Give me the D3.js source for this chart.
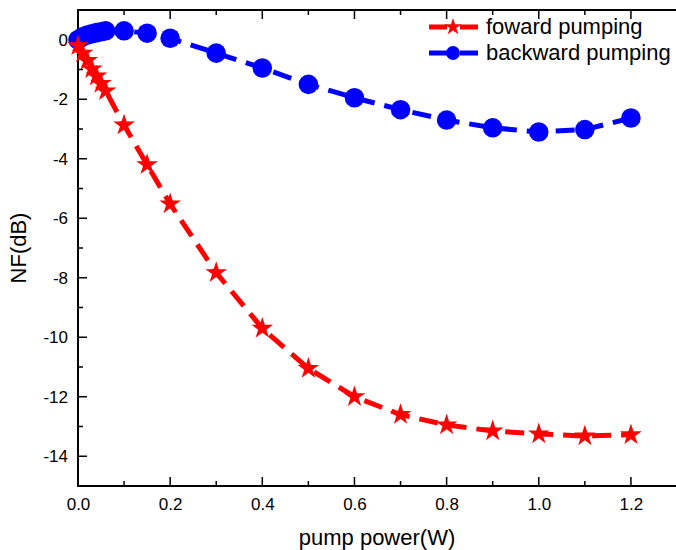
<!DOCTYPE html>
<html>
<head>
<meta charset="utf-8">
<script src="https://cdn.jsdelivr.net/npm/d3@7"></script>
<style>
  body { margin: 0; background: #fff; }
  text { font-family: "Liberation Sans", Arial, sans-serif; }
</style>
</head>
<body>
<svg id="chart" width="676" height="550"></svg>
<script>
const power = [0, 0.01, 0.02, 0.03, 0.04, 0.05, 0.06, 0.1, 0.15, 0.2, 0.3, 0.4, 0.5, 0.6, 0.7, 0.8, 0.9, 1.0, 1.1, 1.2];
const forward = [-0.2, -0.45, -0.7, -0.98, -1.22, -1.47, -1.72, -2.87, -4.2, -5.52, -7.83, -9.7, -11.05, -12.0, -12.6, -12.95, -13.15, -13.25, -13.32, -13.28];
const backward = [0.0, 0.1, 0.16, 0.2, 0.24, 0.27, 0.3, 0.3, 0.22, 0.05, -0.45, -0.95, -1.5, -1.95, -2.35, -2.7, -2.96, -3.1, -3.02, -2.63];
const xTicks = [0, 0.2, 0.4, 0.6, 0.8, 1.0, 1.2];
const yTicks = [0, -2, -4, -6, -8, -10, -12, -14];
const seriesNames = ['foward pumping', 'backward pumping'];

const svg = d3.select('#chart');
const mLeft = 78, mRight = 677, mTop = 10, mBottom = 486;

const x = d3.scaleLinear().domain([0, 1.3]).range([mLeft, mRight]);
const y = d3.scaleLinear().domain([-15, 1]).range([mBottom, mTop]);

// frame
svg.append('rect')
  .attr('x', mLeft).attr('y', mTop)
  .attr('width', mRight - mLeft).attr('height', mBottom - mTop)
  .attr('fill', 'none').attr('stroke', '#000').attr('stroke-width', 2);

const minorX = d3.range(0, 1.31, 0.1);
const minorY = d3.range(-15, 1.01, 1);

// bottom axis
const gx = svg.append('g').attr('transform', `translate(0,${mBottom})`);
gx.call(d3.axisBottom(x).tickValues(xTicks).tickFormat(d => d.toFixed(1)).tickSize(0).tickPadding(12));
gx.select('.domain').remove();
gx.selectAll('text').style('font-size', '17px').attr('fill', '#000');
gx.selectAll('.minor').data(minorX).enter().append('line')
  .attr('x1', d => x(d)).attr('x2', d => x(d))
  .attr('y1', 0).attr('y2', d => (Math.round(d * 10) % 2 === 0) ? -9 : -5)
  .attr('stroke', '#000').attr('stroke-width', 1.5);

// top ticks
svg.append('g').selectAll('line').data(minorX).enter().append('line')
  .attr('x1', d => x(d)).attr('x2', d => x(d))
  .attr('y1', mTop).attr('y2', d => mTop + ((Math.round(d * 10) % 2 === 0) ? 9 : 5))
  .attr('stroke', '#000').attr('stroke-width', 1.5);

// left axis
const gy = svg.append('g').attr('transform', `translate(${mLeft},0)`);
gy.call(d3.axisLeft(y).tickValues(yTicks).tickFormat(d => String(d)).tickSize(0).tickPadding(10));
gy.select('.domain').remove();
gy.selectAll('text').style('font-size', '17px').attr('fill', '#000');
gy.selectAll('.minor').data(minorY).enter().append('line')
  .attr('y1', d => y(d)).attr('y2', d => y(d))
  .attr('x1', 0).attr('x2', d => (Math.round(d) % 2 === 0) ? 9 : 5)
  .attr('stroke', '#000').attr('stroke-width', 1.5);

// axis titles
svg.append('text')
  .attr('x', 377).attr('y', 545)
  .attr('text-anchor', 'middle').style('font-size', '22px')
  .text('pump power(W)');

svg.append('text')
  .attr('transform', `translate(26,${(mTop + mBottom) / 2}) rotate(-90)`)
  .attr('text-anchor', 'middle').style('font-size', '22px')
  .text('NF(dB)');

const line = d3.line().x(d => x(d[0])).y(d => y(d[1]));
const fwdData = power.map((p, i) => [p, forward[i]]);
const bwdData = power.map((p, i) => [p, backward[i]]);

const starPath = d3.symbol().type(d3.symbolStar).size(145);
const circlePath = d3.symbol().type(d3.symbolCircle).size(300);

// backward (blue circles)
svg.append('path').datum(bwdData)
  .attr('d', line).attr('fill', 'none').attr('stroke', '#0000ff')
  .attr('stroke-width', 5).attr('stroke-dasharray', '19,10');
svg.append('g').selectAll('path').data(bwdData).enter().append('path')
  .attr('d', circlePath)
  .attr('transform', d => `translate(${x(d[0])},${y(d[1])})`)
  .attr('fill', '#0000ff');

// forward (red stars)
svg.append('path').datum(fwdData)
  .attr('d', line).attr('fill', 'none').attr('stroke', '#ff0000')
  .attr('stroke-width', 5).attr('stroke-dasharray', '19,10');
svg.append('g').selectAll('path').data(fwdData).enter().append('path')
  .attr('d', starPath)
  .attr('transform', d => `translate(${x(d[0])},${y(d[1])})`)
  .attr('fill', '#ff0000');

// legend
const legend = svg.append('g');
const colors = ['#ff0000', '#0000ff'];
const shapes = [d3.symbol().type(d3.symbolStar).size(90), d3.symbol().type(d3.symbolCircle).size(150)];
seriesNames.forEach((name, i) => {
  const ly = 27 + i * 26;
  legend.append('line').attr('x1', 429).attr('x2', 478).attr('y1', ly).attr('y2', ly)
    .attr('stroke', colors[i]).attr('stroke-width', 5).attr('stroke-dasharray', '18,13');
  legend.append('path').attr('d', shapes[i]).attr('transform', `translate(453,${ly})`).attr('fill', colors[i]);
  legend.append('text').attr('x', 486).attr('y', ly + 7).style('font-size', '22px').text(name);
});
</script>
</body>
</html>
